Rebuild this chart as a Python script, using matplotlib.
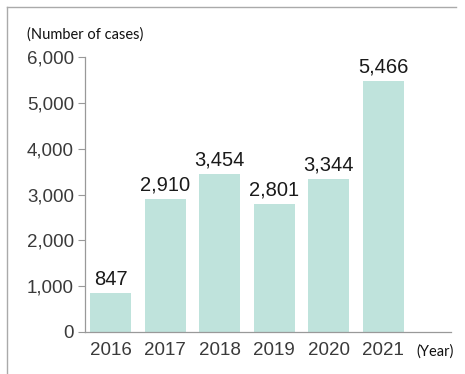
import matplotlib
matplotlib.use("Agg")
import matplotlib.pyplot as plt
from matplotlib.lines import Line2D

years = ["2016", "2017", "2018", "2019", "2020", "2021"]
cases = [847, 2910, 3454, 2801, 3344, 5466]
yticks = [0, 1000, 2000, 3000, 4000, 5000, 6000]

W, H = 465, 374
fig = plt.figure(figsize=(W / 100, H / 100), dpi=100)
fig.patch.set_facecolor("white")

# axes placement (pixels)
left, right, top, bottom = 85, 451, 57, 332
ax = fig.add_axes([left / W, 1 - bottom / H, (right - left) / W, (bottom - top) / H])

x = list(range(len(years)))
ax.bar(x, cases, width=0.75, color="#bfe3dc", zorder=2)
ax.set_xlim(-0.467, 6.24)
ax.set_ylim(0, 6000)

ax.set_yticks(yticks)
ax.set_yticklabels([f"{v:,}" for v in yticks], fontsize=13.5, color="#3a3a3a",
                   family="Liberation Sans")
ax.set_xticks(x)
ax.set_xticklabels(years, fontsize=13.5, color="#3a3a3a", family="Liberation Sans")
ax.tick_params(axis="x", length=0, pad=7)
ax.tick_params(axis="y", length=5, width=0.8, color="#999999", pad=3)

for s in ["top", "right"]:
    ax.spines[s].set_visible(False)
for s in ["left", "bottom"]:
    ax.spines[s].set_color("#999999")
    ax.spines[s].set_linewidth(0.9)

for xi, v in zip(x, cases):
    ax.text(xi, v + 100, f"{v:,}", ha="center", va="bottom", fontsize=14.5,
            color="#1a1a1a", family="Liberation Sans")

fig.text(27 / W, 1 - 35 / H, "(Number of cases)", ha="left", va="center",
         fontsize=10.5, color="#111111", family="Lato")
fig.text(416 / W, 1 - 352 / H, "(Year)", ha="left", va="center",
         fontsize=10.5, color="#111111", family="Lato")

# frame lines
fig.add_artist(Line2D([7 / W, 7 / W], [0, 1 - 7 / H], transform=fig.transFigure,
                      color="#aaaaaa", lw=1.0))
fig.add_artist(Line2D([7 / W, 456 / W], [1 - 7 / H, 1 - 7 / H], transform=fig.transFigure,
                      color="#aaaaaa", lw=1.0))

fig.savefig("out.png", dpi=100)
